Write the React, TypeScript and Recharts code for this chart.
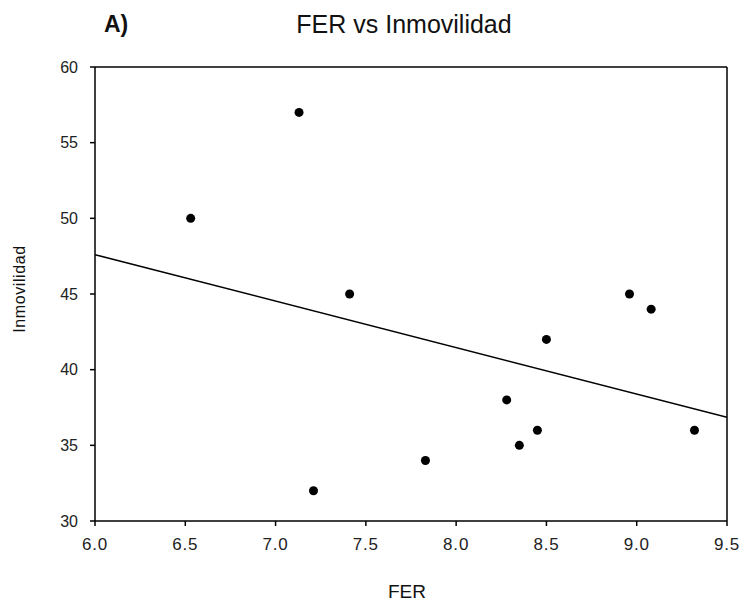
import React from 'react';
import { ScatterChart, Scatter, XAxis, YAxis, ReferenceLine } from 'recharts';

// FER (x) vs Inmovilidad (y) observations
const ferValues = [6.53, 7.13, 7.21, 7.41, 7.83, 8.28, 8.35, 8.45, 8.5, 8.96, 9.08, 9.32];
const inmovilidadValues = [50, 57, 32, 45, 34, 38, 35, 36, 42, 45, 44, 36];

// fitted regression line, ends at the axis limits
const fitX = [6.0, 9.5];
const fitY = [47.6, 36.85];

const xTicks = [6.0, 6.5, 7.0, 7.5, 8.0, 8.5, 9.0, 9.5];
const yTicks = [30, 35, 40, 45, 50, 55, 60];

const points = ferValues.map((x, i) => ({ x, y: inmovilidadValues[i] }));
const fitLine = fitX.map((x, i) => ({ x, y: fitY[i] }));

const font = '"Liberation Sans", Arial, sans-serif';

const Dot = (props: any) => {
  const { cx, cy } = props;
  if (cx == null || cy == null) return null;
  return <circle cx={cx} cy={cy} r={4.5} fill="#000" />;
};

export default function App() {
  return (
    <div style={{ position: 'absolute', left: 0, top: 0, width: 742, height: 610, background: '#fff', fontFamily: font }}>
      <div style={{ position: 'absolute', left: 104, top: 10, fontSize: 23, fontWeight: 'bold', color: '#111', lineHeight: '28px' }}>A)</div>
      <div
        style={{
          position: 'absolute',
          left: 0,
          width: 808,
          top: 10,
          textAlign: 'center',
          fontSize: 25,
          color: '#111',
          lineHeight: '28px',
        }}
      >
        FER vs Inmovilidad
      </div>
      <div style={{ position: 'absolute', left: 0, width: 814, top: 580, textAlign: 'center', fontSize: 19, color: '#111', lineHeight: '24px' }}>
        FER
      </div>
      <div
        style={{
          position: 'absolute',
          left: 20,
          top: 289,
          transform: 'translate(-50%, -50%) rotate(-90deg)',
          fontSize: 16,
          color: '#111',
          whiteSpace: 'nowrap',
          letterSpacing: 0.6,
        }}
      >
        Inmovilidad
      </div>
      <ScatterChart width={742} height={610} margin={{ top: 67, right: 15, bottom: 59, left: 35 }}>
        <XAxis
          type="number"
          dataKey="x"
          domain={[6, 9.5]}
          ticks={xTicks}
          tickFormatter={(v: number) => v.toFixed(1)}
          height={30}
          stroke="#000"
          strokeWidth={1.5}
          tickSize={5}
          tickMargin={12}
          tick={{ fill: '#222', fontSize: 17, fontFamily: font, letterSpacing: 0.8 }}
          allowDataOverflow
        />
        <YAxis
          type="number"
          dataKey="y"
          domain={[30, 60]}
          ticks={yTicks}
          width={60}
          stroke="#000"
          strokeWidth={1.5}
          tickSize={5}
          tickMargin={12}
          tick={{ fill: '#222', fontSize: 16, fontFamily: font }}
          allowDataOverflow
        />
        <ReferenceLine y={60} stroke="#000" strokeWidth={1.5} />
        <ReferenceLine x={9.5} stroke="#000" strokeWidth={1.5} />
        <Scatter
          data={fitLine}
          line={{ stroke: '#000', strokeWidth: 1.5 }}
          shape={() => null}
          isAnimationActive={false}
        />
        <Scatter data={points} shape={<Dot />} isAnimationActive={false} />
      </ScatterChart>
    </div>
  );
}
